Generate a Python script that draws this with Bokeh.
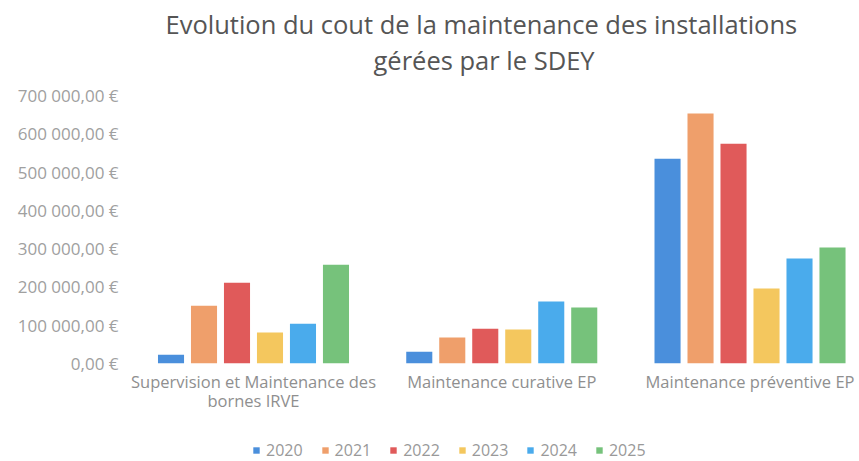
from bokeh.plotting import figure
from bokeh.models import ColumnDataSource, Range1d, FixedTicker, Legend, LegendItem, Title
from bokeh.layouts import column
from bokeh.transform import dodge
from bokeh.embed import file_html
from bokeh.resources import INLINE

title_lines = ["Evolution du cout de la maintenance des installations", "gérées par le SDEY"]
categories = ["Supervision et Maintenance des\nbornes IRVE", "Maintenance curative EP", "Maintenance préventive EP"]
years = ["2020", "2021", "2022", "2023", "2024", "2025"]
v2020 = [23000, 31000, 535000]
v2021 = [151000, 68000, 653000]
v2022 = [211000, 91000, 574000]
v2023 = [81000, 89000, 196000]
v2024 = [104000, 162000, 274000]
v2025 = [258000, 146000, 303000]
series = [v2020, v2021, v2022, v2023, v2024, v2025]
colors = ["#4a8fdc", "#ef9f6b", "#e05a5a", "#f4c75e", "#4aabec", "#76c27b"]
y_ticks = [0, 100000, 200000, 300000, 400000, 500000, 600000, 700000]
y_tick_labels = ["0,00 €", "100 000,00 €", "200 000,00 €", "300 000,00 €", "400 000,00 €",
                 "500 000,00 €", "600 000,00 €", "700 000,00 €"]

FONT = "Open Sans"
LEFT = 128
idx = list(range(len(categories)))
data = {"x": idx}
for y, s in zip(years, series):
    data["y" + y] = s
source = ColumnDataSource(data)

p = figure(width=859, height=435, output_backend="svg", toolbar_location=None,
           x_range=Range1d(-0.5035, 2.441), y_range=Range1d(0, 700000),
           min_border_left=LEFT, min_border_right=0, min_border_top=95, min_border_bottom=72,
           outline_line_color=None)

# title: spacer nearest the plot, then line 2, then line 1
spacer = Title(text=" ", text_font_size="1px", standoff=16)
t2 = Title(text=title_lines[1], align="left", offset=245, standoff=0, text_font=FONT,
           text_font_size="25.5px", text_font_style="normal", text_color="#555555")
t1 = Title(text=title_lines[0], align="left", offset=37, standoff=0, text_font=FONT,
           text_font_size="25.5px", text_font_style="normal", text_color="#555555")
p.add_layout(spacer, "above")
p.add_layout(t2, "above")
p.add_layout(t1, "above")

step = 0.1329
width = 0.105
for j, (y, c) in enumerate(zip(years, colors)):
    p.vbar(x=dodge("x", (j - 2.5) * step, range=p.x_range), top="y" + y, width=width,
           source=source, fill_color=c, line_color=None)

p.xgrid.visible = False
p.ygrid.visible = False

p.xaxis.ticker = FixedTicker(ticks=idx)
p.xaxis.major_label_overrides = {i: c for i, c in zip(idx, categories)}
p.yaxis.ticker = FixedTicker(ticks=y_ticks)
p.yaxis.major_label_overrides = {t: l for t, l in zip(y_ticks, y_tick_labels)}

for ax in (p.xaxis[0], p.yaxis[0]):
    ax.axis_line_color = None
    ax.major_tick_line_color = None
    ax.minor_tick_line_color = None
    ax.major_label_text_font = FONT
p.xaxis.major_label_text_font_size = "16.5px"
p.yaxis.major_label_text_font_size = "17px"
p.xaxis.major_label_text_color = "#8f8f8f"
p.yaxis.major_label_text_color = "#a0a0a0"
p.xaxis.major_label_text_line_height = 0.85
p.xaxis.major_label_standoff = 0
p.yaxis.major_label_standoff = 4

# legend strip (its proxy bars lie far outside the visible ranges)
lg = figure(width=859, height=26, output_backend="svg", toolbar_location=None,
            x_axis_type=None, y_axis_type=None,
            x_range=Range1d(100, 101), y_range=Range1d(2000000, 3000000),
            min_border_left=LEFT, min_border_right=0, min_border_top=0, min_border_bottom=0,
            outline_line_color=None)
lg.grid.visible = False
lg_renderers = [lg.vbar(x="x", top="y" + y, width=0.1, source=source, fill_color=c, line_color=None)
                for y, c in zip(years, colors)]
legend = Legend(items=[LegendItem(label=y, renderers=[r]) for y, r in zip(years, lg_renderers)],
                orientation="horizontal", location=(252 - LEFT, 0))
legend.glyph_width = 8
legend.glyph_height = 8
legend.label_standoff = 6
legend.spacing = 18
legend.padding = 0
legend.margin = 0
legend.border_line_color = None
legend.background_fill_alpha = 0
legend.label_text_font = FONT
legend.label_text_font_size = "16px"
legend.label_text_color = "#999999"
lg.add_layout(legend, "center")

layout = column(p, lg, spacing=0)
open("out.html", "w").write(file_html(layout, INLINE))
